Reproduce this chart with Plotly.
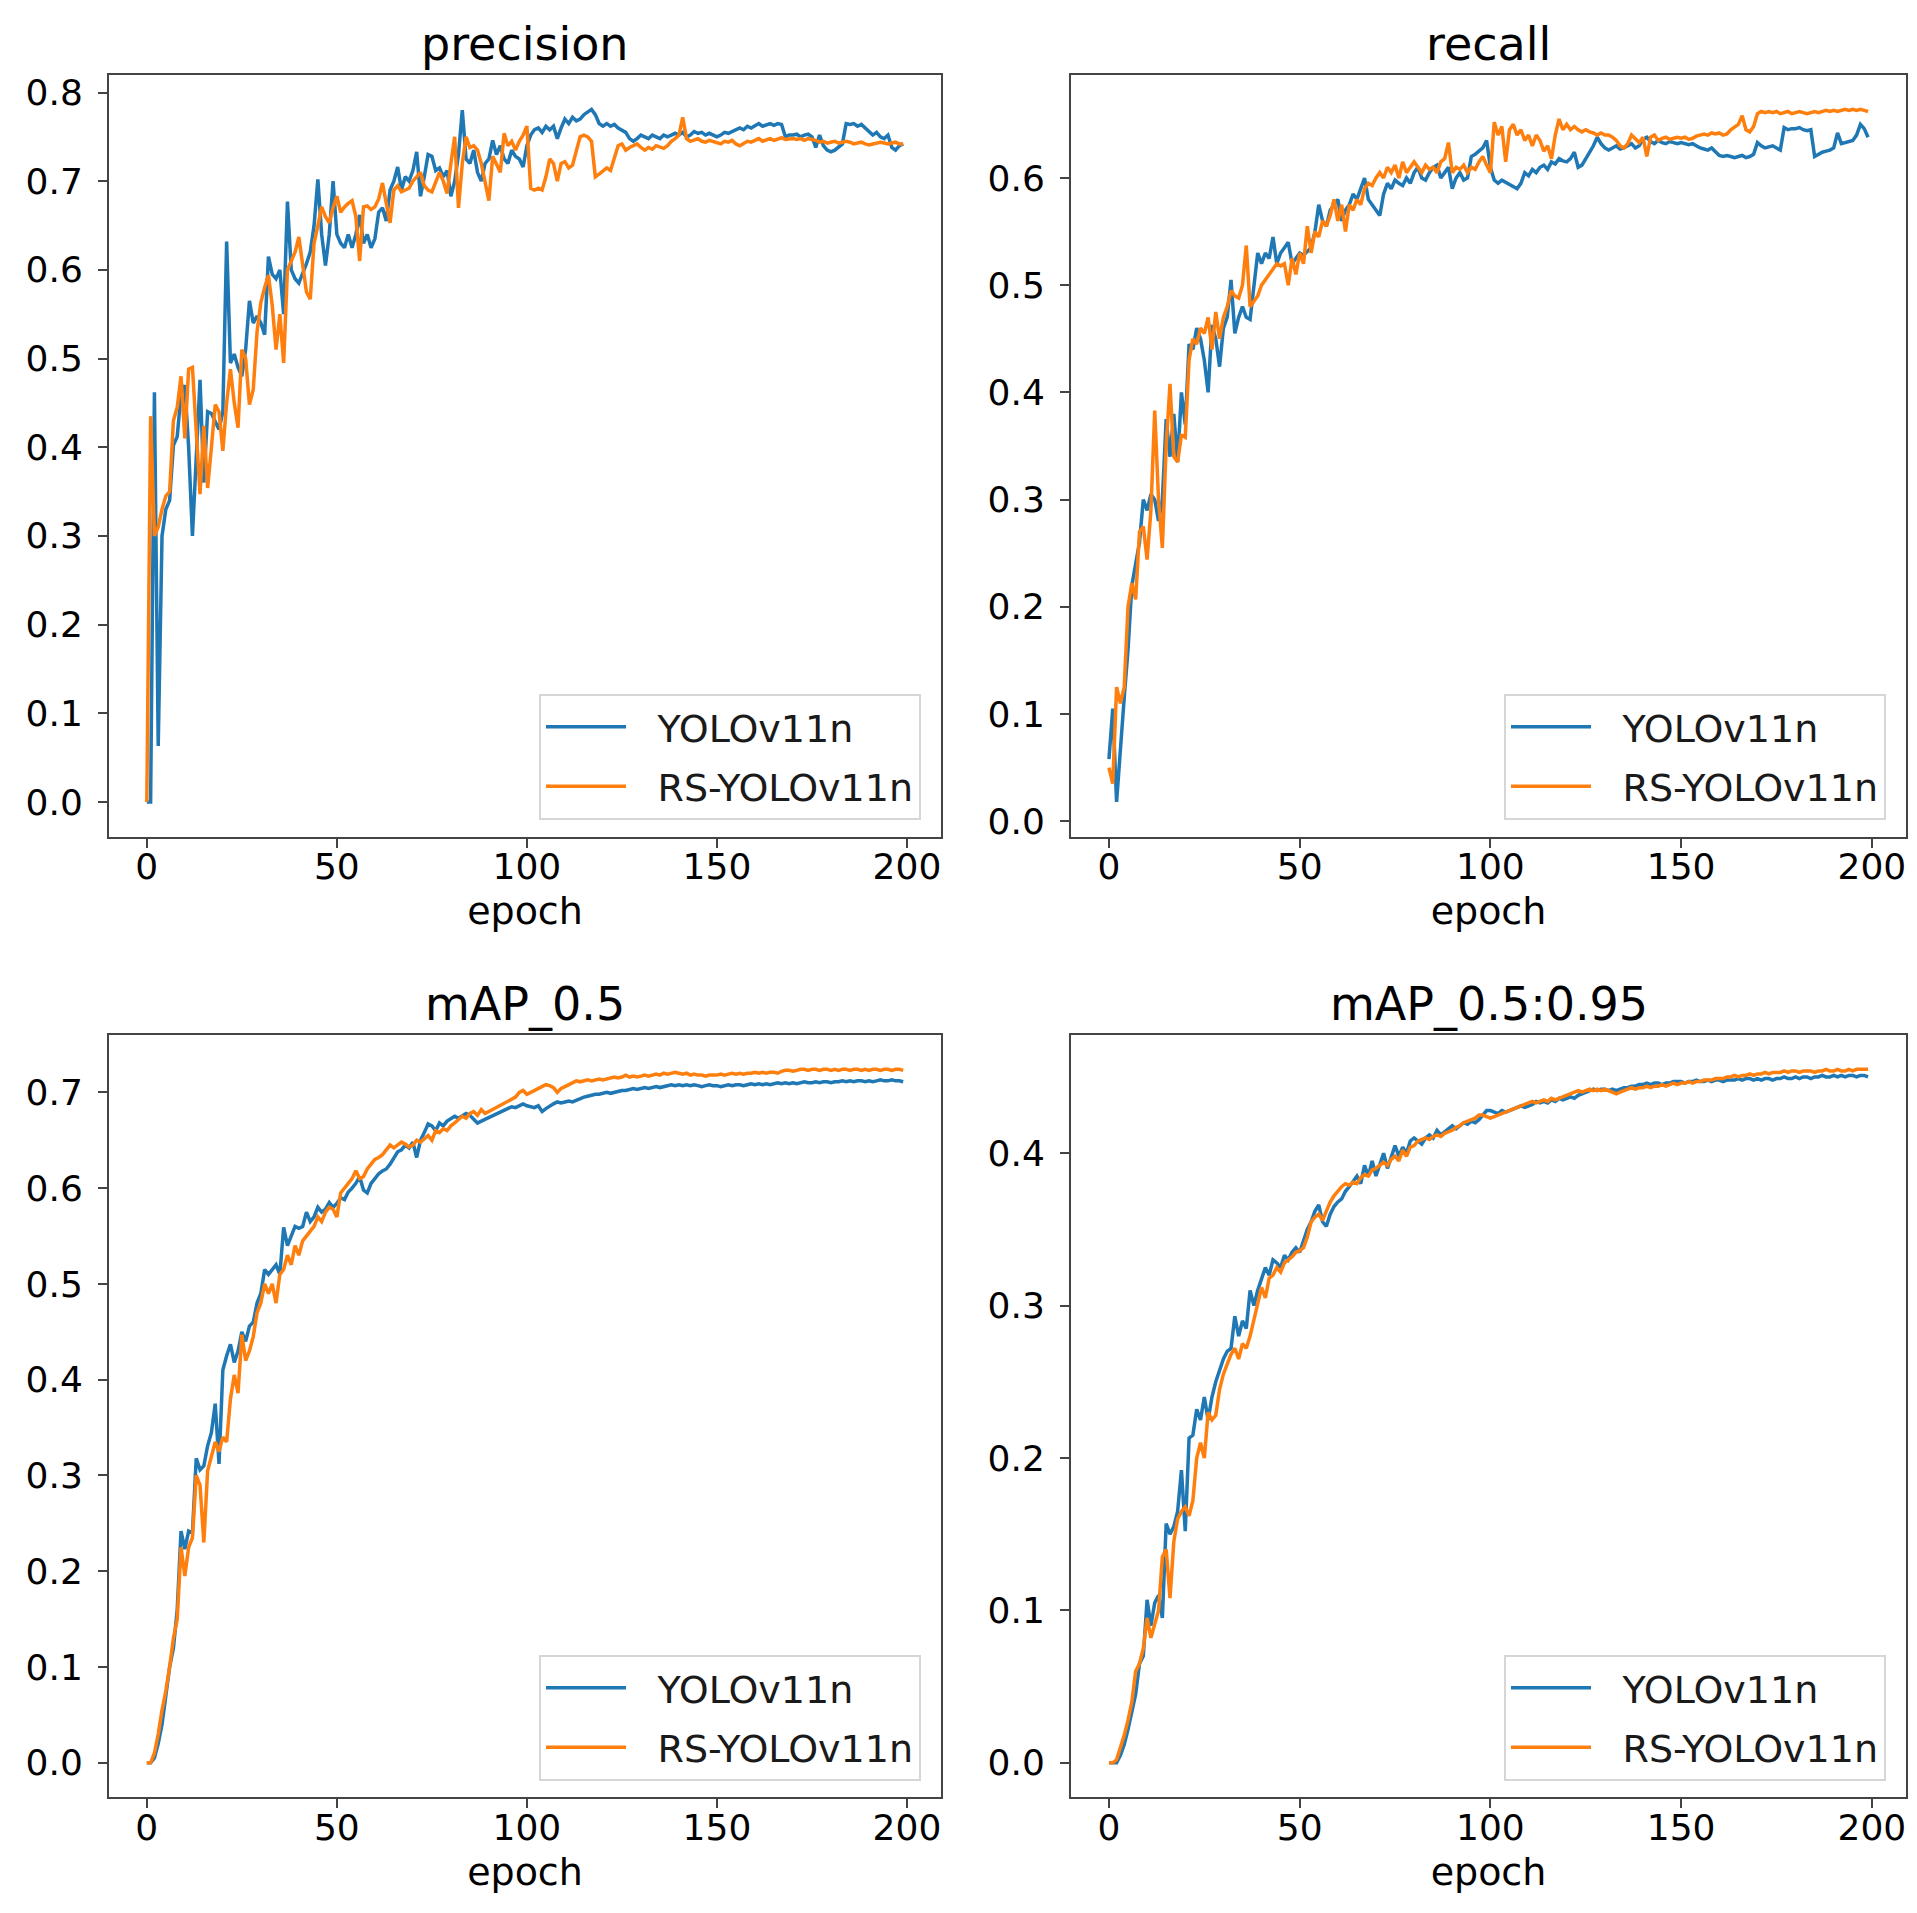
import plotly.graph_objects as go

# ── Data (one value per epoch) ────────────────────────────────────────────────

EPOCHS = list(range(200))
SERIES_NAMES = ["YOLOv11n", "RS-YOLOv11n"]
PANEL_TITLES = ["precision", "recall", "mAP_0.5", "mAP_0.5:0.95"]

PRECISION_YOLO = [
    0.000, 0.000, 0.462, 0.063, 0.300, 0.330, 0.340, 0.402, 0.412, 0.460,
    0.470, 0.400, 0.300, 0.380, 0.476, 0.360, 0.440, 0.438, 0.430, 0.420,
    0.440, 0.632, 0.495, 0.505, 0.490, 0.480, 0.510, 0.565, 0.540, 0.548,
    0.540, 0.527, 0.615, 0.595, 0.590, 0.600, 0.550, 0.677, 0.600, 0.590,
    0.585, 0.595, 0.607, 0.620, 0.650, 0.702, 0.640, 0.605, 0.640, 0.700,
    0.640, 0.630, 0.625, 0.640, 0.625, 0.640, 0.662, 0.630, 0.640, 0.625,
    0.635, 0.665, 0.670, 0.655, 0.690, 0.700, 0.716, 0.690, 0.705, 0.700,
    0.712, 0.733, 0.683, 0.705, 0.730, 0.728, 0.712, 0.715, 0.705, 0.712,
    0.683, 0.700, 0.730, 0.780, 0.725, 0.720, 0.735, 0.710, 0.700, 0.720,
    0.725, 0.746, 0.730, 0.740, 0.725, 0.720, 0.735, 0.728, 0.725, 0.716,
    0.740, 0.752, 0.758, 0.760, 0.755, 0.762, 0.758, 0.762, 0.748, 0.760,
    0.770, 0.765, 0.772, 0.768, 0.770, 0.775, 0.778, 0.781, 0.775, 0.765,
    0.762, 0.765, 0.762, 0.764, 0.760, 0.758, 0.755, 0.748, 0.745, 0.748,
    0.752, 0.750, 0.748, 0.752, 0.750, 0.748, 0.752, 0.750, 0.752, 0.754,
    0.752, 0.755, 0.750, 0.752, 0.756, 0.754, 0.755, 0.752, 0.754, 0.752,
    0.750, 0.752, 0.755, 0.754, 0.756, 0.758, 0.760, 0.758, 0.762, 0.760,
    0.762, 0.765, 0.762, 0.764, 0.765, 0.763, 0.765, 0.764, 0.750, 0.752,
    0.752, 0.753, 0.750, 0.752, 0.753, 0.750, 0.738, 0.752, 0.740, 0.735,
    0.733, 0.735, 0.738, 0.742, 0.765, 0.764, 0.765, 0.762, 0.764, 0.760,
    0.755, 0.752, 0.755, 0.750, 0.748, 0.752, 0.738, 0.735, 0.740, 0.742,
]
PRECISION_RS = [
    0.000, 0.435, 0.300, 0.310, 0.330, 0.345, 0.350, 0.430, 0.445, 0.480,
    0.410, 0.488, 0.490, 0.420, 0.347, 0.424, 0.354, 0.400, 0.448, 0.440,
    0.396, 0.450, 0.488, 0.450, 0.422, 0.510, 0.500, 0.448, 0.465, 0.530,
    0.563, 0.580, 0.594, 0.560, 0.510, 0.550, 0.495, 0.600, 0.610, 0.620,
    0.637, 0.607, 0.575, 0.567, 0.630, 0.650, 0.671, 0.660, 0.653, 0.670,
    0.683, 0.665, 0.671, 0.675, 0.678, 0.660, 0.610, 0.671, 0.672, 0.668,
    0.671, 0.680, 0.698, 0.675, 0.653, 0.690, 0.695, 0.688, 0.690, 0.692,
    0.700, 0.705, 0.710, 0.695, 0.690, 0.688, 0.700, 0.710, 0.700, 0.686,
    0.720, 0.750, 0.670, 0.720, 0.750, 0.738, 0.740, 0.735, 0.720, 0.700,
    0.678, 0.728, 0.720, 0.710, 0.754, 0.740, 0.745, 0.735, 0.745, 0.752,
    0.762, 0.692, 0.690, 0.692, 0.690, 0.705, 0.725, 0.720, 0.700, 0.720,
    0.722, 0.715, 0.718, 0.735, 0.750, 0.752, 0.750, 0.745, 0.705, 0.708,
    0.712, 0.715, 0.712, 0.725, 0.740, 0.742, 0.735, 0.738, 0.740, 0.742,
    0.738, 0.735, 0.738, 0.736, 0.740, 0.738, 0.737, 0.740, 0.745, 0.748,
    0.752, 0.772, 0.748, 0.745, 0.746, 0.748, 0.745, 0.744, 0.746, 0.745,
    0.743, 0.742, 0.745, 0.744, 0.746, 0.742, 0.740, 0.743, 0.745, 0.744,
    0.746, 0.748, 0.745, 0.747, 0.748, 0.746, 0.748, 0.749, 0.747, 0.748,
    0.748, 0.747, 0.748, 0.746, 0.748, 0.747, 0.746, 0.744, 0.745, 0.743,
    0.744, 0.745, 0.743, 0.744, 0.745, 0.744, 0.742, 0.743, 0.744, 0.742,
    0.741, 0.742, 0.743, 0.744, 0.743, 0.742, 0.743, 0.744, 0.742, 0.742,
]

RECALL_YOLO = [
    0.058, 0.105, 0.018, 0.070, 0.115, 0.160, 0.220, 0.240, 0.260, 0.300,
    0.290, 0.305, 0.300, 0.280, 0.300, 0.375, 0.340, 0.380, 0.335, 0.400,
    0.370, 0.445, 0.440, 0.460, 0.450, 0.430, 0.400, 0.463, 0.450, 0.424,
    0.460, 0.470, 0.505, 0.455, 0.470, 0.480, 0.470, 0.468, 0.500, 0.530,
    0.520, 0.530, 0.525, 0.545, 0.520, 0.530, 0.535, 0.540, 0.520, 0.525,
    0.530, 0.528, 0.532, 0.535, 0.550, 0.575, 0.560, 0.555, 0.570, 0.575,
    0.580, 0.560, 0.570, 0.575, 0.585, 0.580, 0.590, 0.600, 0.580, 0.575,
    0.570, 0.565, 0.585, 0.595, 0.590, 0.598, 0.595, 0.593, 0.600, 0.595,
    0.605, 0.610, 0.600, 0.598, 0.605, 0.610, 0.612, 0.600, 0.605, 0.610,
    0.590, 0.600, 0.605, 0.598, 0.600, 0.620, 0.622, 0.625, 0.628, 0.635,
    0.610, 0.598, 0.595, 0.598, 0.596, 0.594, 0.592, 0.590, 0.595, 0.605,
    0.602, 0.608, 0.605, 0.610, 0.612, 0.608, 0.615, 0.613, 0.618, 0.616,
    0.615, 0.618, 0.624, 0.610, 0.612, 0.618, 0.625, 0.630, 0.638, 0.632,
    0.628, 0.626, 0.628, 0.630, 0.627, 0.628, 0.630, 0.632, 0.628, 0.630,
    0.636, 0.638, 0.634, 0.632, 0.635, 0.633, 0.632, 0.634, 0.633, 0.632,
    0.633, 0.632, 0.631, 0.632, 0.630, 0.628, 0.627, 0.626, 0.628, 0.625,
    0.621, 0.620, 0.621, 0.620, 0.619, 0.620, 0.621, 0.619, 0.620, 0.622,
    0.633, 0.630, 0.628, 0.629, 0.630, 0.628, 0.626, 0.647, 0.645, 0.646,
    0.646, 0.647, 0.645, 0.644, 0.645, 0.620, 0.622, 0.624, 0.625, 0.626,
    0.628, 0.642, 0.632, 0.633, 0.634, 0.635, 0.640, 0.650, 0.646, 0.638,
]
RECALL_RS = [
    0.050, 0.035, 0.125, 0.110, 0.125, 0.200, 0.222, 0.207, 0.270, 0.275,
    0.244, 0.290, 0.383, 0.300, 0.255, 0.350, 0.408, 0.340, 0.335, 0.360,
    0.358, 0.430, 0.450, 0.445, 0.460, 0.455, 0.470, 0.440, 0.475, 0.450,
    0.470, 0.480, 0.495, 0.490, 0.488, 0.500, 0.537, 0.480, 0.485, 0.490,
    0.500, 0.505, 0.510, 0.515, 0.520, 0.518, 0.520, 0.500, 0.525, 0.510,
    0.530, 0.520, 0.555, 0.530, 0.550, 0.545, 0.560, 0.555, 0.565, 0.580,
    0.560, 0.575, 0.550, 0.575, 0.570, 0.580, 0.575, 0.590, 0.595, 0.593,
    0.600, 0.605, 0.600, 0.610, 0.605, 0.612, 0.600, 0.615, 0.605, 0.610,
    0.615, 0.610, 0.605, 0.612, 0.608, 0.610, 0.605, 0.615, 0.618, 0.633,
    0.605, 0.610, 0.608, 0.612, 0.605, 0.610, 0.608, 0.615, 0.620, 0.612,
    0.605, 0.652, 0.640, 0.648, 0.615, 0.645, 0.650, 0.640, 0.645, 0.635,
    0.640, 0.630, 0.640, 0.635, 0.625, 0.630, 0.618, 0.640, 0.655, 0.645,
    0.650, 0.645, 0.648, 0.645, 0.643, 0.645, 0.643, 0.642, 0.640, 0.642,
    0.640, 0.640, 0.638, 0.635, 0.630, 0.628, 0.632, 0.640, 0.636, 0.633,
    0.638, 0.620, 0.638, 0.640, 0.635, 0.637, 0.638, 0.636, 0.637, 0.638,
    0.637, 0.638, 0.636, 0.637, 0.639, 0.640, 0.641, 0.640, 0.642, 0.641,
    0.642, 0.640, 0.641, 0.645, 0.648, 0.650, 0.658, 0.645, 0.643, 0.648,
    0.660, 0.662, 0.661, 0.662, 0.661, 0.662, 0.660, 0.661, 0.662, 0.660,
    0.661, 0.662, 0.661, 0.660, 0.661, 0.662, 0.661, 0.662, 0.663, 0.662,
    0.663, 0.662, 0.663, 0.664, 0.663, 0.664, 0.663, 0.664, 0.663, 0.662,
]

MAP50_YOLO = [
    0.000, 0.000, 0.005, 0.020, 0.040, 0.070, 0.100, 0.120, 0.160, 0.242,
    0.223, 0.242, 0.240, 0.318, 0.306, 0.310, 0.331, 0.345, 0.375, 0.312,
    0.410, 0.425, 0.437, 0.418, 0.430, 0.450, 0.440, 0.456, 0.460, 0.480,
    0.490, 0.515, 0.510, 0.515, 0.520, 0.510, 0.559, 0.540, 0.550, 0.560,
    0.558, 0.560, 0.575, 0.565, 0.570, 0.580, 0.575, 0.578, 0.585, 0.580,
    0.584, 0.590, 0.588, 0.596, 0.600, 0.605, 0.612, 0.598, 0.595, 0.605,
    0.610, 0.615, 0.618, 0.620, 0.625, 0.632, 0.638, 0.640, 0.645, 0.642,
    0.648, 0.632, 0.650, 0.658, 0.667, 0.665, 0.660, 0.668, 0.665, 0.670,
    0.672, 0.675, 0.673, 0.675, 0.678, 0.676, 0.672, 0.668, 0.670, 0.672,
    0.674, 0.676, 0.678, 0.680, 0.682, 0.683, 0.685, 0.684, 0.686, 0.688,
    0.686, 0.685, 0.684, 0.686, 0.680, 0.683, 0.686, 0.688, 0.690, 0.689,
    0.690, 0.691, 0.690, 0.692, 0.694, 0.695, 0.696, 0.697, 0.698, 0.698,
    0.699, 0.700, 0.699, 0.700, 0.701, 0.702, 0.702, 0.703, 0.704, 0.703,
    0.704, 0.705, 0.704, 0.705, 0.706, 0.705, 0.706, 0.707, 0.708, 0.707,
    0.708, 0.707, 0.708, 0.707, 0.708, 0.707, 0.706, 0.707, 0.708, 0.707,
    0.707, 0.706, 0.707, 0.708, 0.707, 0.708, 0.708, 0.707, 0.708, 0.709,
    0.708, 0.709, 0.708, 0.709, 0.708, 0.709, 0.710, 0.709, 0.710, 0.709,
    0.710, 0.709, 0.710, 0.711, 0.710, 0.710, 0.711, 0.710, 0.711, 0.711,
    0.710, 0.711, 0.711, 0.712, 0.711, 0.712, 0.711, 0.712, 0.712, 0.711,
    0.712, 0.711, 0.712, 0.713, 0.712, 0.712, 0.713, 0.712, 0.712, 0.711,
]
MAP50_RS = [
    0.000, 0.000, 0.010, 0.030, 0.055, 0.075, 0.100, 0.130, 0.150, 0.225,
    0.195, 0.225, 0.235, 0.300, 0.290, 0.230, 0.305, 0.320, 0.335, 0.325,
    0.340, 0.335, 0.380, 0.405, 0.386, 0.447, 0.420, 0.430, 0.445, 0.470,
    0.480, 0.500, 0.490, 0.500, 0.480, 0.510, 0.515, 0.530, 0.520, 0.540,
    0.530, 0.545, 0.550, 0.555, 0.560, 0.570, 0.565, 0.575, 0.580, 0.578,
    0.570, 0.595, 0.600, 0.605, 0.610, 0.618, 0.610, 0.612, 0.620, 0.625,
    0.630, 0.632, 0.635, 0.640, 0.645, 0.642, 0.645, 0.648, 0.646, 0.643,
    0.645, 0.650, 0.648, 0.652, 0.655, 0.650, 0.660, 0.658, 0.662, 0.660,
    0.665, 0.668, 0.672, 0.675, 0.673, 0.678, 0.680, 0.676, 0.682, 0.678,
    0.680, 0.682, 0.684, 0.686, 0.688, 0.690, 0.692, 0.695, 0.700, 0.702,
    0.698, 0.700, 0.702, 0.705, 0.706, 0.708, 0.707, 0.705, 0.700, 0.704,
    0.706, 0.708, 0.710, 0.712, 0.711, 0.712, 0.713, 0.712, 0.713, 0.714,
    0.713, 0.714, 0.715, 0.716, 0.715, 0.716, 0.718, 0.716, 0.717, 0.716,
    0.717, 0.718, 0.717, 0.718, 0.719, 0.718, 0.720, 0.719, 0.720, 0.721,
    0.720, 0.719, 0.720, 0.718, 0.719, 0.718, 0.718, 0.717, 0.718, 0.718,
    0.718, 0.719, 0.718, 0.719, 0.720, 0.719, 0.720, 0.719, 0.720, 0.720,
    0.721, 0.720, 0.721, 0.720, 0.721, 0.721, 0.720, 0.722, 0.723, 0.723,
    0.722, 0.723, 0.724, 0.724, 0.723, 0.724, 0.724, 0.723, 0.724, 0.724,
    0.723, 0.724, 0.723, 0.724, 0.724, 0.723, 0.724, 0.724, 0.723, 0.724,
    0.723, 0.724, 0.724, 0.723, 0.724, 0.724, 0.723, 0.724, 0.724, 0.723,
]

MAP95_YOLO = [
    0.000, 0.000, 0.000, 0.005, 0.012, 0.022, 0.035, 0.045, 0.065, 0.070,
    0.107, 0.090, 0.105, 0.110, 0.095, 0.157, 0.150, 0.155, 0.165, 0.192,
    0.152, 0.213, 0.215, 0.232, 0.225, 0.240, 0.225, 0.240, 0.250, 0.258,
    0.265, 0.270, 0.272, 0.293, 0.280, 0.290, 0.285, 0.310, 0.300, 0.310,
    0.318, 0.325, 0.320, 0.330, 0.328, 0.325, 0.333, 0.330, 0.335, 0.338,
    0.335, 0.342, 0.350, 0.355, 0.362, 0.366, 0.355, 0.352, 0.360, 0.365,
    0.368, 0.370, 0.375, 0.378, 0.382, 0.385, 0.380, 0.392, 0.385, 0.395,
    0.385, 0.393, 0.400, 0.390, 0.398, 0.405, 0.398, 0.404, 0.400, 0.408,
    0.410, 0.408, 0.406, 0.410, 0.412, 0.410, 0.415, 0.412, 0.414, 0.416,
    0.418, 0.416, 0.418, 0.420, 0.419, 0.421, 0.420, 0.422, 0.425, 0.428,
    0.428, 0.427, 0.426, 0.428, 0.427, 0.428, 0.429, 0.430, 0.431, 0.430,
    0.431, 0.432, 0.434, 0.433, 0.434, 0.433, 0.435, 0.434, 0.436, 0.435,
    0.436, 0.437, 0.436, 0.438, 0.439, 0.440, 0.441, 0.442, 0.441, 0.442,
    0.442, 0.441, 0.442, 0.441, 0.442, 0.443, 0.443, 0.444, 0.444, 0.445,
    0.445, 0.446, 0.445, 0.446, 0.446, 0.445, 0.446, 0.446, 0.447, 0.447,
    0.447, 0.446, 0.447, 0.447, 0.448, 0.447, 0.447, 0.448, 0.447, 0.448,
    0.448, 0.447, 0.448, 0.448, 0.448, 0.449, 0.448, 0.449, 0.449, 0.448,
    0.449, 0.448, 0.449, 0.449, 0.448, 0.449, 0.449, 0.450, 0.449, 0.449,
    0.450, 0.449, 0.450, 0.450, 0.449, 0.450, 0.450, 0.451, 0.450, 0.450,
    0.451, 0.450, 0.451, 0.450, 0.451, 0.451, 0.450, 0.451, 0.451, 0.450,
]
MAP95_RS = [
    0.000, 0.000, 0.002, 0.010, 0.018, 0.028, 0.040, 0.060, 0.065, 0.075,
    0.095, 0.082, 0.092, 0.100, 0.135, 0.140, 0.108, 0.145, 0.160, 0.165,
    0.168, 0.162, 0.172, 0.200, 0.210, 0.200, 0.230, 0.225, 0.228, 0.245,
    0.255, 0.262, 0.268, 0.272, 0.265, 0.275, 0.272, 0.280, 0.290, 0.300,
    0.312, 0.305, 0.318, 0.320, 0.325, 0.322, 0.328, 0.330, 0.332, 0.335,
    0.336, 0.338, 0.345, 0.355, 0.358, 0.360, 0.356, 0.362, 0.368, 0.372,
    0.375, 0.378, 0.380, 0.379, 0.381, 0.380, 0.384, 0.386, 0.385, 0.389,
    0.390, 0.392, 0.394, 0.392, 0.396, 0.398, 0.395, 0.402, 0.398, 0.404,
    0.405, 0.408, 0.409, 0.410, 0.409, 0.411, 0.412, 0.411, 0.413, 0.414,
    0.415, 0.417, 0.418, 0.420, 0.421, 0.422, 0.423, 0.425, 0.425, 0.424,
    0.423, 0.424, 0.425, 0.426, 0.427, 0.428, 0.429, 0.430, 0.431, 0.432,
    0.433, 0.434, 0.433, 0.434, 0.435, 0.434, 0.436, 0.435, 0.436, 0.437,
    0.438, 0.439, 0.440, 0.441, 0.440, 0.441, 0.442, 0.441, 0.442, 0.441,
    0.442, 0.441, 0.440, 0.439, 0.440, 0.441, 0.442, 0.443, 0.442, 0.443,
    0.443, 0.444, 0.443, 0.444, 0.444, 0.445, 0.444, 0.445, 0.446, 0.445,
    0.446, 0.446, 0.447, 0.446, 0.447, 0.447, 0.448, 0.448, 0.448, 0.449,
    0.449, 0.449, 0.450, 0.450, 0.451, 0.450, 0.451, 0.451, 0.452, 0.451,
    0.452, 0.452, 0.453, 0.452, 0.453, 0.453, 0.453, 0.454, 0.453, 0.454,
    0.454, 0.453, 0.454, 0.454, 0.454, 0.453, 0.454, 0.454, 0.455, 0.454,
    0.454, 0.455, 0.454, 0.454, 0.455, 0.454, 0.455, 0.455, 0.455, 0.455,
]

X_TICKS = [0, 50, 100, 150, 200]

# ── Style / layout ────────────────────────────────────────────────────────────

W, H = 1917, 1913
FONT = "DejaVu Sans"
COLORS = ["#1f77b4", "#ff7f0e"]
FRAME = "#444444"
LEGEND_GAP = "\u2002\u2009"   # space between the legend line sample and its label

# panel boxes in pixels: (left, right, top, bottom)
BOXES = [
    (101, 933, 64, 829),
    (1063, 1898, 64, 829),
    (101, 933, 1028, 1794),
    (1063, 1898, 1028, 1794),
]

PANELS = [
    (PRECISION_YOLO, PRECISION_RS),
    (RECALL_YOLO, RECALL_RS),
    (MAP50_YOLO, MAP50_RS),
    (MAP95_YOLO, MAP95_RS),
]


def auto_range(values, pad=0.05):
    lo, hi = min(values), max(values)
    span = hi - lo
    return [lo - pad * span, hi + pad * span]


fig = go.Figure()
layout = dict(
    width=W, height=H, autosize=False,
    margin=dict(l=0, r=0, t=0, b=0),
    paper_bgcolor="white", plot_bgcolor="white",
    font=dict(family=FONT, color="black", size=36),
    annotations=[],
)

x_range = auto_range(EPOCHS)

for i, (title, (yolo, rs), box) in enumerate(zip(PANEL_TITLES, PANELS, BOXES)):
    n = "" if i == 0 else str(i + 1)
    left, right, top, bottom = box
    legend_name = "legend" if i == 0 else f"legend{i + 1}"

    for j, (name, vals) in enumerate(zip(SERIES_NAMES, (yolo, rs))):
        fig.add_trace(go.Scatter(
            x=EPOCHS, y=vals, name=LEGEND_GAP + name, mode="lines",
            line=dict(color=COLORS[j], width=3.5),
            xaxis=f"x{n}", yaxis=f"y{n}",
            legend=legend_name, legendgroup=f"{i}-{j}",
            hovertemplate=f"{name}<br>epoch %{{x}}: %{{y:.3f}}<extra></extra>",
        ))

    axis_common = dict(
        showline=True, mirror=True, linecolor=FRAME, linewidth=2,
        ticks="outside", ticklen=9, tickwidth=2, tickcolor=FRAME,
        showgrid=False, zeroline=False,
        tickfont=dict(size=36, family=FONT, color="black"),
    )
    layout[f"xaxis{n}"] = dict(
        axis_common,
        domain=[left / W, right / W], anchor=f"y{n}",
        range=x_range, tickvals=X_TICKS, ticklabelstandoff=-12,
        title=dict(text="epoch", font=dict(size=38, family=FONT), standoff=12),
    )
    layout[f"yaxis{n}"] = dict(
        axis_common,
        domain=[1 - bottom / H, 1 - top / H], anchor=f"x{n}",
        range=auto_range(yolo + rs), tick0=0, dtick=0.1, tickformat=".1f",
        ticklabelstandoff=8,
    )
    layout[legend_name] = dict(
        x=(right - 20) / W, y=1 - (bottom - 17) / H,
        xanchor="right", yanchor="bottom",
        bgcolor="white", bordercolor="#d6d6d6", borderwidth=2,
        font=dict(size=38, family=FONT, color="#1a1a1a"),
        itemwidth=80, tracegroupgap=7,
    )
    layout["annotations"].append(dict(
        text=title, xref="paper", yref="paper",
        x=(left + right) / 2 / W, y=1 - top / H,
        xanchor="center", yanchor="bottom", yshift=2, showarrow=False,
        font=dict(size=46, family=FONT, color="black"),
    ))

fig.update_layout(**layout)
fig.write_html("out.html")
